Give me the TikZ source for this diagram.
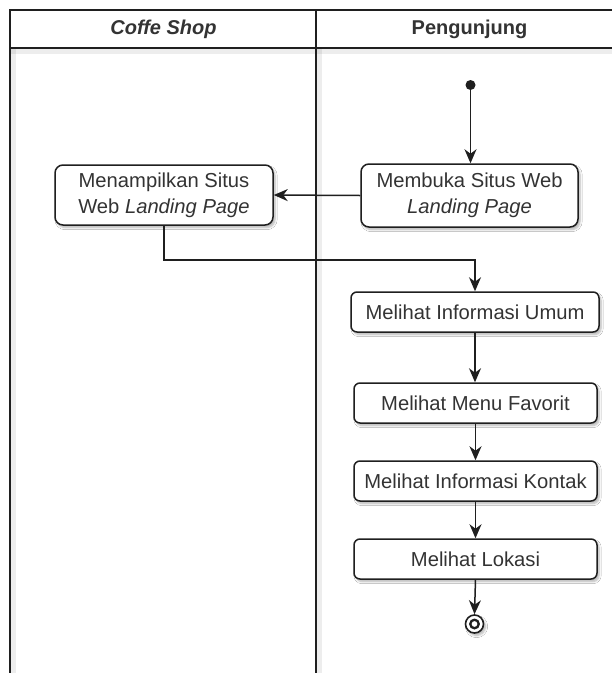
\documentclass[tikz,border=0pt]{standalone}
\usepackage{fontspec}
\setmainfont{Liberation Sans}
\usetikzlibrary{arrows.meta,shadows.blur}
\definecolor{ink}{HTML}{1F1F1F}
\definecolor{txt}{HTML}{333333}
\tikzset{
  lane/.style={draw=ink, line width=1.6pt},
  laneshade/.style={draw=black, line width=1pt, opacity=0.07},
  lanetitle/.style={text=txt, font=\fontsize{20}{24}\selectfont\bfseries},
  act/.style={draw=ink, line width=1.5pt, rounded corners=8pt, fill=white,
    align=center, text=txt, font=\fontsize{20.2}{26}\selectfont, inner sep=0pt,
    blur shadow={shadow xshift=2pt, shadow yshift=-2.5pt, shadow opacity=30,
      shadow blur steps=6}},
  flow/.style={draw=ink, line width=1.5pt,
    -{Stealth[length=14pt,width=12pt,inset=4.5pt]}},
}
\begin{document}
\begin{tikzpicture}[x=1pt,y=-1pt]
\useasboundingbox (0,0) rectangle (612,673);
\fill[white] (0,0) rectangle (612,673);

% soft shadows of the swimlane rules
\foreach \d in {1,...,5}{
  \draw[laneshade] (10+\d,48) -- (10+\d,673);
  \draw[laneshade] (316+\d,48) -- (316+\d,673);
  \draw[laneshade] (10,48+\d) -- (612,48+\d);
}

% swimlane frame
\draw[lane] (10,673) -- (10,10) -- (612,10);
\draw[lane] (10,48) -- (612,48);
\draw[lane] (316,10) -- (316,673);
\node[lanetitle] (laneA) at (163.5,29) {\itshape Coffe Shop};
\node[lanetitle] (laneB) at (469.5,29) {Pengunjung};

% activities
\node[circle, fill=ink, minimum size=10pt, inner sep=0pt] (start) at (470.5,85) {};
\node[act, minimum width=217pt, minimum height=63pt] (mw) at (469.5,195.5)
  {Membuka Situs Web\\\textit{Landing Page}};
\node[act, minimum width=218pt, minimum height=60pt] (mt) at (164,195)
  {Menampilkan Situs\\Web \textit{Landing Page}};
\node[act, rounded corners=6pt, minimum width=248pt, minimum height=40pt] (umum) at (475,312)
  {Melihat Informasi Umum};
\node[act, rounded corners=6pt, minimum width=243pt, minimum height=40pt] (fav) at (475.5,403)
  {Melihat Menu Favorit};
\node[act, rounded corners=6pt, minimum width=243pt, minimum height=40pt] (kontak) at (475.5,481)
  {Melihat Informasi Kontak};
\node[act, rounded corners=6pt, minimum width=243pt, minimum height=40pt] (lokasi) at (475.5,559)
  {Melihat Lokasi};

% final state
\node[circle, draw=ink, line width=1.6pt, fill=white, minimum size=18pt, inner sep=0pt,
  blur shadow={shadow xshift=2pt, shadow yshift=-2.5pt, shadow opacity=30, shadow blur steps=6}]
  (end) at (474.5,624) {};
\node[circle, draw=ink, line width=2.3pt, minimum size=8.5pt, inner sep=0pt] (endcore) at (end) {};

% connectors
\draw[flow] (start) -- (start |- mw.north);
\draw[flow] (mw.west) -- (mt.east);
\draw[flow] (mt.south) -- ++(0,34) -| (umum.north);
\draw[flow] (umum.south) -- (umum.south |- fav.north);
\draw[flow] (fav.south) -- (fav.south |- kontak.north);
\draw[flow] (kontak.south) -- (kontak.south |- lokasi.north);
\draw[flow] (lokasi.south) -- (end.north);
\end{tikzpicture}
\end{document}
